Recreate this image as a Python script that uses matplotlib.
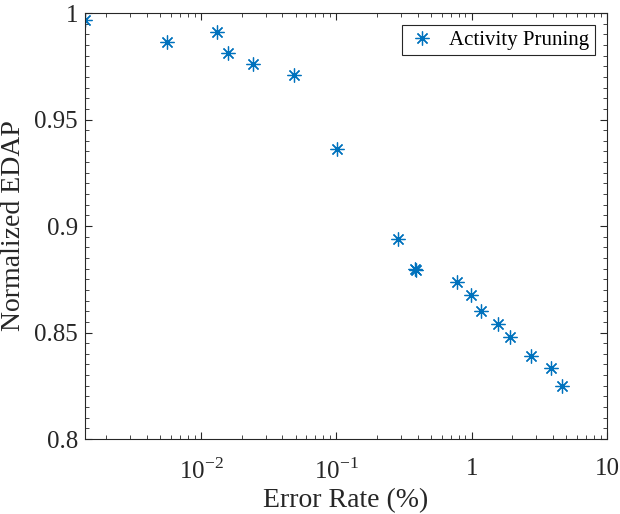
import numpy as np
import matplotlib
matplotlib.use('Agg')
import matplotlib.pyplot as plt
from matplotlib.ticker import MultipleLocator, LogLocator, NullFormatter, FixedLocator, FixedFormatter

plt.rcParams['font.family'] = ['Liberation Serif', 'DejaVu Serif']
plt.rcParams['mathtext.fontset'] = 'custom'
plt.rcParams['mathtext.rm'] = 'Liberation Serif'

# error rate (%) vs normalized EDAP
error_rate = [0.0014, 0.0056, 0.0131, 0.0158, 0.0242, 0.0487, 0.1017, 0.288,
              0.382, 0.390, 0.783, 0.983, 1.165, 1.565, 1.92, 2.75, 3.87, 4.67]
edap = [0.9967, 0.9864, 0.9909, 0.9811, 0.9759, 0.9707, 0.9360, 0.8939,
        0.8797, 0.8795, 0.8736, 0.8675, 0.8600, 0.8538, 0.8479, 0.8391, 0.8333, 0.8250]

xtick_vals = [1e-2, 1e-1, 1, 10]
xtick_labels = ['$10^{-2}$', '$10^{-1}$', '1', '10']
ytick_vals = [0.8, 0.85, 0.9, 0.95, 1.0]
ytick_labels = ['0.8', '0.85', '0.9', '0.95', '1']

blue = (0, 0.447, 0.741)

fig = plt.figure(figsize=(6.2, 5.14), dpi=100)
ax = fig.add_axes([85/620, 1 - 439/514, (607-85)/620, (439-13)/514])

ax.plot(error_rate, edap, linestyle='none', marker=(8, 2, 0), markersize=10,
        markeredgewidth=0.9, color=blue, label='Activity Pruning')

ax.set_xscale('log')
ax.set_xlim(0.00139, 10)
ax.set_ylim(0.8, 1.0)

ax.xaxis.set_major_locator(FixedLocator(xtick_vals))
ax.xaxis.set_major_formatter(FixedFormatter(xtick_labels))
ax.xaxis.set_minor_locator(LogLocator(base=10, subs=np.arange(2, 10), numticks=20))
ax.xaxis.set_minor_formatter(NullFormatter())
ax.yaxis.set_major_locator(FixedLocator(ytick_vals))
ax.yaxis.set_major_formatter(FixedFormatter(ytick_labels))
ax.yaxis.set_minor_locator(MultipleLocator(0.005))

ax.tick_params(which='both', direction='in', top=True, right=True, labelsize=18,
               color='#262626', labelcolor='#262626')
ax.tick_params(which='major', length=5, width=0.8)
ax.tick_params(which='minor', length=3, width=0.6)
ax.tick_params(axis='x', pad=14)
ax.tick_params(axis='y', pad=5)
for s in ax.spines.values():
    s.set_color('#262626')
    s.set_linewidth(0.8)

ax.set_xlabel('Error Rate (%)', fontsize=20, color='#262626', labelpad=3)
ax.set_ylabel('Normalized EDAP', fontsize=20, color='#262626', labelpad=6)

leg = ax.legend(loc='upper right', fontsize=15, fancybox=False, framealpha=1,
                edgecolor='#262626', borderpad=0.25, handletextpad=0.6,
                borderaxespad=0.6, handlelength=1.4)
leg.get_frame().set_linewidth(0.8)

fig.savefig('out.png', dpi=100)
